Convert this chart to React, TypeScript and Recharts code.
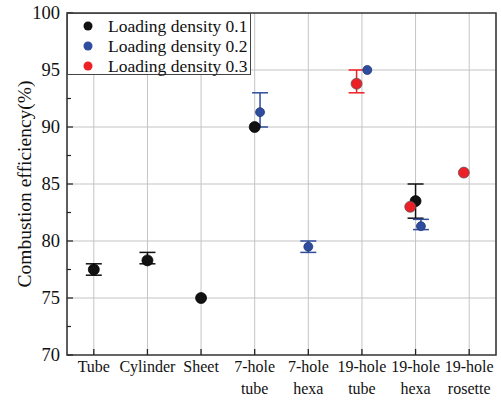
import {
  ScatterChart,
  Scatter,
  XAxis,
  YAxis,
  CartesianGrid,
  ErrorBar,
  Legend,
  ReferenceArea,
} from "recharts";

const FONT = "Liberation Serif";

const categories = [
  "Tube",
  "Cylinder",
  "Sheet",
  "7-hole\ntube",
  "7-hole\nhexa",
  "19-hole\ntube",
  "19-hole\nhexa",
  "19-hole\nrosette",
];
const categoryTicks = [1, 2, 3, 4, 5, 6, 7, 8];
const yTicks = [70, 72.5, 75, 77.5, 80, 82.5, 85, 87.5, 90, 92.5, 95, 97.5, 100];
const gridValues = [75, 80, 85, 90, 95];

// loading density 0.1 (null = no error bar visible)
const d1X = [1, 2, 3, 4, 7];
const d1Y = [77.5, 78.3, 75.0, 90.0, 83.5];
const d1Err = [[0.5, 0.5], [0.3, 0.7], null, null, [1.5, 1.5]];

// loading density 0.2
const d2X = [4.1, 5, 6.1, 7.1];
const d2Y = [91.3, 79.5, 95.0, 81.3];
const d2Err = [[1.3, 1.7], [0.5, 0.5], null, [0.3, 0.6]];

// loading density 0.3
const d3X = [5.9, 6.9, 7.9];
const d3Y = [93.8, 83.0, 86.0];
const d3Err = [[0.8, 1.2], null, null];

const build = (xs: number[], ys: number[], errs: (number[] | null)[]) =>
  xs.map((x, i) => ({ x, y: ys[i], err: errs[i] }));

const series = [
  { name: "Loading density 0.1", data: build(d1X, d1Y, d1Err), color: "#111111", edge: "#000000", r: 5.5 },
  { name: "Loading density 0.2", data: build(d2X, d2Y, d2Err), color: "#2f4d9e", edge: "#1c2f6a", r: 4.5 },
  { name: "Loading density 0.3", data: build(d3X, d3Y, d3Err), color: "#ec2127", edge: "#555555", r: 5.5 },
];

function CategoryTick(props: any) {
  const { x, y, payload } = props;
  const lines = (categories[payload.value - 1] ?? "").split("\n");
  return (
    <g>
      <line x1={x} x2={x} y1={y} y2={y - 6} stroke="#222" strokeWidth={1.3} />
      <text x={x} y={y} textAnchor="middle" fontSize={16} fill="#111" style={{ fontFamily: FONT }}>
        {lines.map((l, i) => (
          <tspan key={i} x={x} dy={i === 0 ? 17 : 22}>
            {l}
          </tspan>
        ))}
      </text>
    </g>
  );
}

function ValueTick(props: any) {
  const { x, y, payload } = props;
  const axisX = x + 7;
  const major = payload.value % 5 === 0;
  return (
    <g>
      <line x1={axisX} x2={axisX + (major ? 6 : 4)} y1={y} y2={y} stroke="#222" strokeWidth={1.2} />
      {major && (
        <text x={x} y={y} dy="0.35em" textAnchor="end" fontSize={18.5} fill="#111" style={{ fontFamily: FONT }}>
          {payload.value}
        </text>
      )}
    </g>
  );
}

function YTitle(props: any) {
  const vb = props.viewBox ?? { x: 0, y: 13, width: 67, height: 342 };
  const cx = vb.x + 24;
  const cy = vb.y + vb.height / 2;
  return (
    <text
      x={cx}
      y={cy}
      transform={`rotate(-90 ${cx} ${cy})`}
      textAnchor="middle"
      dominantBaseline="central"
      fontSize={19.5}
      fill="#111"
      style={{ fontFamily: FONT }}
    >
      Combustion efficiency(%)
    </text>
  );
}

function LegendBox() {
  return (
    <div
      style={{
        width: 184,
        height: 62,
        boxSizing: "border-box",
        border: "1px solid #444",
        background: "#fff",
        paddingTop: 2,
        fontFamily: FONT,
        fontSize: 17.5,
        color: "#111",
      }}
    >
      {series.map((s) => (
        <div key={s.name} style={{ display: "flex", alignItems: "center", height: 20 }}>
          <svg width={40} height={20}>
            <circle cx={20} cy={10} r={4.5} fill={s.color} />
          </svg>
          <span style={{ lineHeight: "20px" }}>{s.name}</span>
        </div>
      ))}
    </div>
  );
}

export default function App() {
  return (
    <div style={{ position: "absolute", left: 0, top: 0, background: "#fff", fontFamily: FONT }}>
      <ScatterChart width={501} height={401} margin={{ top: 13, right: 5, left: 0, bottom: 0 }}>
        <CartesianGrid horizontalValues={gridValues} stroke="#c4c4c4" strokeWidth={1} />
        <XAxis
          type="number"
          dataKey="x"
          domain={[0.5, 8.5]}
          ticks={categoryTicks}
          interval={0}
          allowDataOverflow
          height={46}
          axisLine={false}
          tickLine={false}
          tickSize={0}
          tickMargin={0}
          tick={<CategoryTick />}
        />
        <YAxis
          type="number"
          dataKey="y"
          domain={[70, 100]}
          ticks={yTicks}
          interval={0}
          allowDataOverflow
          width={67}
          axisLine={false}
          tickLine={false}
          tickSize={0}
          tickMargin={7}
          tick={<ValueTick />}
          label={YTitle}
        />
        <ReferenceArea x1={0.5} x2={8.5} y1={70} y2={100} fill="none" stroke="#333" strokeWidth={1.5} />
        <Legend
          layout="horizontal"
          verticalAlign="middle"
          align="center"
          wrapperStyle={{ left: 67, top: 13, width: 184, height: 62 }}
          content={<LegendBox />}
        />
        {series.map((s) => (
          <Scatter
            key={s.name}
            name={s.name}
            data={s.data}
            fill={s.color}
            isAnimationActive={false}
            shape={(p: any) => (
              <circle cx={p.cx} cy={p.cy} r={s.r} fill={s.color} stroke={s.edge} strokeWidth={0.7} />
            )}
          >
            <ErrorBar
              dataKey="err"
              direction="y"
              width={8}
              stroke={s.color}
              strokeWidth={1.5}
              isAnimationActive={false}
            />
          </Scatter>
        ))}
      </ScatterChart>
    </div>
  );
}
